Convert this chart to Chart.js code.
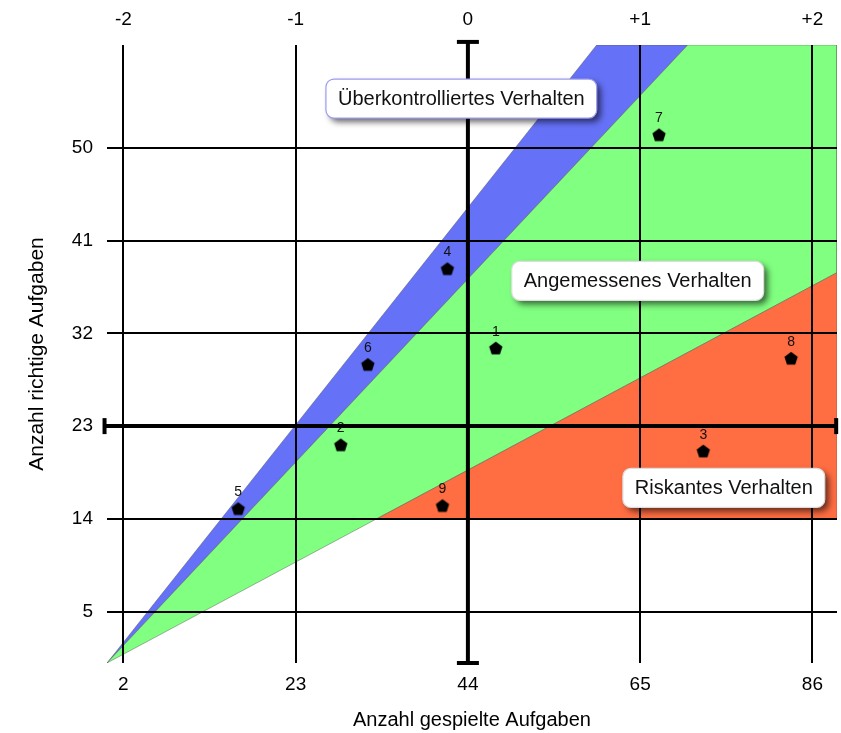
<!DOCTYPE html>
<html>
<head>
<meta charset="utf-8">
<script src="https://cdn.jsdelivr.net/npm/chart.js@4/dist/chart.umd.min.js"></script>
<style>
html, body { margin: 0; padding: 0; background: #fff; }
#chart { display: block; }
</style>
</head>
<body>
<canvas id="chart" width="841" height="733"></canvas>
<script>
var xTicks = [2, 23, 44, 65, 86];
var topTickLabels = ['-2', '-1', '0', '+1', '+2'];
var yTicks = [5, 14, 23, 32, 41, 50];

var pupilIds = ['1', '2', '3', '4', '5', '6', '7', '8', '9'];
var pupilPlayed = [47.4, 28.5, 72.7, 41.5, 16.0, 31.8, 67.3, 83.4, 40.9];
var pupilCorrect = [30.6, 21.2, 20.6, 38.3, 15.0, 29.0, 51.3, 29.6, 15.3];

var overZone = [[0, 0], [59.7, 60], [70.8, 60]];
var fitZone = [[0, 0], [70.8, 60], [89, 60], [89, 37.9]];
var riskZone = [[32.9, 14], [89, 14], [89, 37.9]];

var meanPlayed = 44;
var meanCorrect = 23;
var meanLineYEnds = [0, 60.3];
var meanLineXEnds = [-0.3, 88.9];

var zoneLabels = ['Überkontrolliertes Verhalten', 'Angemessenes Verhalten', 'Riskantes Verhalten'];
var zoneLabelX = [43.2, 64.7, 75.2];
var zoneLabelY = [54.8, 37.1, 17.0];
var zoneBorders = ['#9c9cf2', '#dddddd', '#dddddd'];

var fontFamily = "'Liberation Sans', Arial, Helvetica, sans-serif";

function polygon(arr) {
	var pts = arr.map(function (p) { return {x: p[0], y: p[1]}; });
	pts.push({x: arr[0][0], y: arr[0][1]});
	return pts;
}

function pentagon(r) {
	var c = document.createElement('canvas');
	var s = Math.ceil(2 * r) + 2;
	c.width = s;
	c.height = s;
	var g = c.getContext('2d');
	g.fillStyle = '#000';
	g.beginPath();
	for (var i = 0; i < 5; i++) {
		var a = -Math.PI / 2 + i * 2 * Math.PI / 5;
		var px = s / 2 + r * Math.cos(a);
		var py = s / 2 + 0.8 + r * Math.sin(a);
		if (i == 0) g.moveTo(px, py); else g.lineTo(px, py);
	}
	g.closePath();
	g.fill();
	return c;
}

function zoneSet(arr, color, order) {
	return {
		data: polygon(arr),
		showLine: true,
		fill: 'shape',
		backgroundColor: color,
		borderColor: 'rgba(80,80,80,0.55)',
		borderWidth: 0.8,
		pointRadius: 0,
		order: order
	};
}

var pupils = [];
for (var i = 0; i < pupilIds.length; i++) {
	pupils.push({x: pupilPlayed[i], y: pupilCorrect[i]});
}

var pointNumbers = {
	id: 'pointNumbers',
	afterDatasetsDraw: function (chart) {
		var meta = chart.getDatasetMeta(0);
		var ctx = chart.ctx;
		ctx.save();
		ctx.font = '14px ' + fontFamily;
		ctx.fillStyle = '#111';
		ctx.textAlign = 'center';
		ctx.textBaseline = 'middle';
		meta.data.forEach(function (el, i) {
			ctx.fillText(pupilIds[i], el.x, el.y - 16);
		});
		ctx.restore();
	}
};

var zoneBoxes = {
	id: 'zoneBoxes',
	afterDraw: function (chart) {
		var ctx = chart.ctx;
		var xs = chart.scales.x, ys = chart.scales.y;
		ctx.save();
		ctx.font = '20px ' + fontFamily;
		for (var i = 0; i < zoneLabels.length; i++) {
			var cx = xs.getPixelForValue(zoneLabelX[i]);
			var cy = ys.getPixelForValue(zoneLabelY[i]);
			var w = ctx.measureText(zoneLabels[i]).width + 24;
			var h = 39;
			var x0 = cx - w / 2, y0 = cy - h / 2, r = 8;
			ctx.beginPath();
			ctx.moveTo(x0 + r, y0);
			ctx.arcTo(x0 + w, y0, x0 + w, y0 + h, r);
			ctx.arcTo(x0 + w, y0 + h, x0, y0 + h, r);
			ctx.arcTo(x0, y0 + h, x0, y0, r);
			ctx.arcTo(x0, y0, x0 + w, y0, r);
			ctx.closePath();
			ctx.shadowColor = 'rgba(0,0,0,0.6)';
			ctx.shadowBlur = 6;
			ctx.shadowOffsetX = 4;
			ctx.shadowOffsetY = 4;
			ctx.fillStyle = '#fff';
			ctx.fill();
			ctx.shadowColor = 'transparent';
			ctx.lineWidth = 1.2;
			ctx.strokeStyle = zoneBorders[i];
			ctx.stroke();
			ctx.fillStyle = '#111';
			ctx.textAlign = 'center';
			ctx.textBaseline = 'middle';
			ctx.fillText(zoneLabels[i], cx, cy + 1);
		}
		ctx.restore();
	}
};

function setTicks(list) {
	return function (scale) {
		scale.ticks = list.map(function (v) { return {value: v}; });
	};
}

function fitBox(prop, size) {
	return function (s) {
		s[prop] = size;
		s.paddingLeft = 0;
		s.paddingRight = 0;
		s.paddingTop = 0;
		s.paddingBottom = 0;
	};
}

var chart = new Chart(document.getElementById('chart'), {
	type: 'scatter',
	data: {
		datasets: [
			{
				data: pupils,
				pointStyle: pentagon(7),
				order: 0
			},
			{
				data: meanLineYEnds.map(function (v) { return {x: meanPlayed, y: v}; }),
				showLine: true,
				borderColor: '#000',
				borderWidth: 4,
				pointStyle: 'line',
				pointRadius: 11,
				pointBorderWidth: 4,
				pointBorderColor: '#000',
				pointRotation: 0,
				clip: false,
				order: 1
			},
			{
				data: meanLineXEnds.map(function (v) { return {x: v, y: meanCorrect}; }),
				showLine: true,
				borderColor: '#000',
				borderWidth: 4,
				pointStyle: 'line',
				pointRadius: 8,
				pointBorderWidth: 4,
				pointBorderColor: '#000',
				pointRotation: 90,
				clip: false,
				order: 1
			},
			zoneSet(riskZone, '#ff6d42', 2),
			zoneSet(fitZone, '#80ff80', 3),
			zoneSet(overZone, '#6571f7', 4)
		]
	},
	options: {
		responsive: false,
		animation: false,
		layout: {autoPadding: false, padding: {left: 0, right: 4, top: 0, bottom: 0}},
		plugins: {
			legend: {display: false},
			tooltip: {enabled: false}
		},
		events: [],
		scales: {
			x: {
				type: 'linear',
				position: 'bottom',
				min: 0,
				max: 89,
				afterBuildTicks: setTicks(xTicks),
				afterFit: fitBox('height', 70),
				grid: {color: '#000', lineWidth: 2, drawTicks: false, z: 1},
				border: {display: false},
				ticks: {padding: 10, color: '#000', font: {family: fontFamily, size: 19}},
				title: {
					display: true,
					text: 'Anzahl gespielte Aufgaben',
					color: '#000',
					font: {family: fontFamily, size: 20},
					padding: {top: 0, bottom: 1}
				}
			},
			x2: {
				type: 'linear',
				position: 'top',
				min: 0,
				max: 89,
				afterBuildTicks: setTicks(xTicks),
				afterFit: fitBox('height', 45),
				grid: {display: false, drawTicks: false},
				border: {display: false},
				ticks: {
					padding: 14,
					color: '#000',
					font: {family: fontFamily, size: 19},
					callback: function (v, i) { return topTickLabels[i]; }
				}
			},
			y: {
				type: 'linear',
				min: 0,
				max: 60,
				afterBuildTicks: setTicks(yTicks),
				afterFit: fitBox('width', 107),
				grid: {color: '#000', lineWidth: 2, drawTicks: false, z: 1},
				border: {display: false},
				ticks: {padding: 14, color: '#000', font: {family: fontFamily, size: 19}},
				title: {
					display: true,
					text: 'Anzahl richtige Aufgaben',
					color: '#000',
					font: {family: fontFamily, size: 21},
					padding: {top: 25, bottom: 0}
				}
			}
		}
	},
	plugins: [pointNumbers, zoneBoxes]
});
</script>
</body>
</html>
